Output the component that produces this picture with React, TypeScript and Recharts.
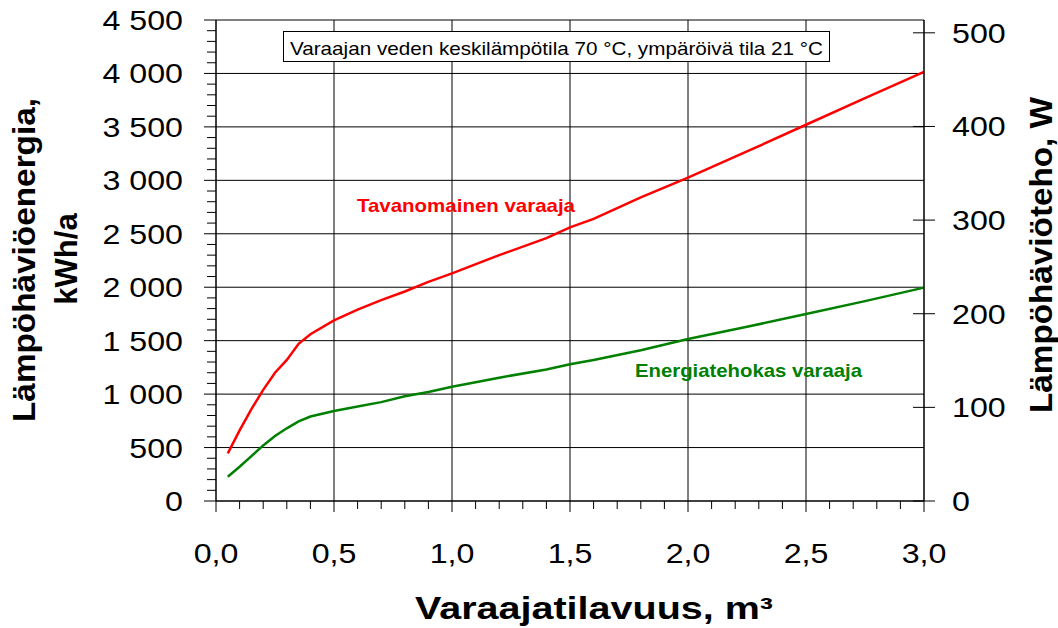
import { CartesianGrid, Line, LineChart, XAxis, YAxis } from "recharts";

// storage volume, m³
const volume = [
  0.05, 0.1, 0.15, 0.2, 0.25, 0.3, 0.35, 0.4, 0.5, 0.6, 0.7, 0.8, 0.9, 1.0, 1.2, 1.4, 1.5, 1.6, 1.8, 2.0,
  2.25, 2.5, 2.75, 3.0,
];
// heat loss energy, kWh/a
const conventional = [
  446, 660, 860, 1040, 1200, 1320, 1470, 1560, 1690, 1790, 1880, 1960, 2050, 2130, 2300, 2460, 2560, 2640,
  2840, 3025, 3270, 3520, 3770, 4015,
];
const efficient = [
  227, 320, 420, 520, 608, 680, 745, 790, 842, 885, 925, 980, 1020, 1069, 1154, 1230, 1279, 1320, 1410, 1516,
  1630, 1749, 1870, 1996,
];

const xTicks = Array.from({ length: 31 }, (_, i) => i / 10);
const xGrid = [0, 0.5, 1, 1.5, 2, 2.5, 3];
const leftTicks = Array.from({ length: 46 }, (_, i) => i * 100);
const leftGrid = [0, 500, 1000, 1500, 2000, 2500, 3000, 3500, 4000, 4500];
const rightTicks = [0, 100, 200, 300, 400, 500];

const HOURS_PER_YEAR = 8.76; // kWh/a per W
const data = volume.map((v, i) => ({
  v,
  conventional: conventional[i],
  efficient: efficient[i],
  conventionalW: conventional[i] / HOURS_PER_YEAR,
}));

const FONT = '"Liberation Sans", Arial, Helvetica, sans-serif';
const SX = 1.15;

const thousands = (n: number) =>
  n >= 1000 ? `${Math.floor(n / 1000)} ${String(n % 1000).padStart(3, "0")}` : String(n);

const LeftTick = ({ x, y, payload }: any) => {
  const major = payload.value % 500 === 0;
  return (
    <g>
      <line x1={x - (major ? 12 : 9)} x2={x} y1={y} y2={y} stroke="#000" />
      {major && (
        <text
          transform={`translate(${x - 33},${y + 10}) scale(${SX},1)`}
          textAnchor="end"
          fontSize={28}
          fontFamily={FONT}
          fill="#000"
        >
          {thousands(payload.value)}
        </text>
      )}
    </g>
  );
};

const RightTick = ({ x, y, payload }: any) => (
  <g>
    <line x1={x - 11} x2={x + 11} y1={y} y2={y} stroke="#000" />
    <text
      transform={`translate(${x + 28},${y + 10}) scale(${SX},1)`}
      textAnchor="start"
      fontSize={28}
      fontFamily={FONT}
      fill="#000"
    >
      {payload.value}
    </text>
  </g>
);

const BottomTick = ({ x, y, payload }: any) => {
  const major = Math.round(payload.value * 10) % 5 === 0;
  return (
    <g>
      <line x1={x} x2={x} y1={y} y2={y + (major ? 11 : 8)} stroke="#000" />
      {major && (
        <text
          transform={`translate(${x},${y + 62}) scale(${SX},1)`}
          textAnchor="middle"
          fontSize={28}
          fontFamily={FONT}
          fill="#000"
        >
          {payload.value.toFixed(1).replace(".", ",")}
        </text>
      )}
    </g>
  );
};

const Annotations = () => (
  <g fontFamily={FONT}>
    <rect x={283.5} y={31.5} width={546} height={30} fill="#fff" stroke="#000" />
    <text x={290} y={55} fontSize={19} textLength={533} lengthAdjust="spacingAndGlyphs" fill="#000">
      Varaajan veden keskilämpötila 70 °C, ympäröivä tila 21 °C
    </text>
    <text x={357} y={212} fontSize={19} fontWeight="bold" fill="#ff0000" textLength={218} lengthAdjust="spacingAndGlyphs">
      Tavanomainen varaaja
    </text>
    <text x={635} y={377} fontSize={19} fontWeight="bold" fill="#008000" textLength={227} lengthAdjust="spacingAndGlyphs">
      Energiatehokas varaaja
    </text>
    <text transform="translate(35,260) rotate(-90)" textAnchor="middle" fontSize={31} fontWeight="bold" textLength={324} lengthAdjust="spacingAndGlyphs">
      Lämpöhäviöenergia,
    </text>
    <text transform="translate(77,259) rotate(-90)" textAnchor="middle" fontSize={31} fontWeight="bold">
      kWh/a
    </text>
    <text transform="translate(1052,255) rotate(-90)" textAnchor="middle" fontSize={31} fontWeight="bold" textLength={316} lengthAdjust="spacingAndGlyphs">
      Lämpöhäviöteho, W
    </text>
    <text x={415} y={619} fontSize={31} fontWeight="bold" textLength={358} lengthAdjust="spacingAndGlyphs">
      Varaajatilavuus, m³
    </text>
  </g>
);

export default function App() {
  return (
    <div style={{ position: "absolute", left: 0, top: 0, width: 1058, height: 628, background: "#fff" }}>
      <LineChart width={1058} height={628} data={data} margin={{ top: 20, right: 0, bottom: 0, left: 0 }}>
        <CartesianGrid
          yAxisId="left"
          stroke="#000"
          horizontalValues={leftGrid}
          verticalValues={xGrid}
        />
        <XAxis
          dataKey="v"
          type="number"
          domain={[0, 3]}
          ticks={xTicks}
          interval={0}
          height={127}
          tickSize={0}
          tickMargin={0}
          tickLine={false}
          axisLine={{ stroke: "#000" }}
          tick={<BottomTick />}
        />
        <YAxis
          yAxisId="left"
          domain={[0, 4500]}
          ticks={leftTicks}
          interval={0}
          width={216}
          tickSize={0}
          tickMargin={0}
          tickLine={false}
          axisLine={{ stroke: "#000" }}
          tick={<LeftTick />}
        />
        <YAxis
          yAxisId="right"
          orientation="right"
          domain={[0, 4500 / HOURS_PER_YEAR]}
          allowDataOverflow
          ticks={rightTicks}
          interval={0}
          width={134}
          tickSize={0}
          tickMargin={0}
          tickLine={false}
          axisLine={{ stroke: "#000" }}
          tick={<RightTick />}
        />
        {/* same curve expressed in W, only to bind the right-hand axis */}
        <Line
          yAxisId="right"
          type="linear"
          dataKey="conventionalW"
          stroke="transparent"
          strokeWidth={0}
          dot={false}
          activeDot={false}
          isAnimationActive={false}
        />
        <Line
          yAxisId="left"
          type="linear"
          dataKey="conventional"
          stroke="#ff0000"
          strokeWidth={2.5}
          dot={false}
          isAnimationActive={false}
        />
        <Line
          yAxisId="left"
          type="linear"
          dataKey="efficient"
          stroke="#008000"
          strokeWidth={2.5}
          dot={false}
          isAnimationActive={false}
        />
        <Annotations />
      </LineChart>
    </div>
  );
}
